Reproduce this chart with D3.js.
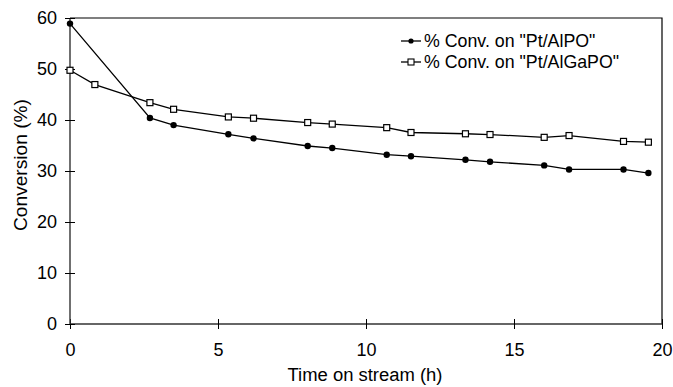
<!DOCTYPE html>
<html>
<head>
<meta charset="utf-8">
<script src="https://cdn.jsdelivr.net/npm/d3@7"></script>
<style>
  body { margin: 0; background: #fff; }
  svg { display: block; font-family: "Liberation Sans", Arial, sans-serif; }
</style>
</head>
<body>
<svg width="673" height="387"></svg>
<script>
// ---------- data ----------
var timeAlPO = [0, 2.7, 3.5, 5.35, 6.2, 8.03, 8.86, 10.7, 11.52, 13.36, 14.19, 16.02, 16.86, 18.7, 19.54];
var convAlPO = [58.9, 40.4, 39.0, 37.2, 36.4, 34.9, 34.5, 33.2, 32.9, 32.2, 31.8, 31.1, 30.3, 30.3, 29.6];
var timeAlGaPO = [0, 0.84, 2.7, 3.5, 5.35, 6.2, 8.03, 8.86, 10.7, 11.52, 13.36, 14.19, 16.02, 16.86, 18.7, 19.54];
var convAlGaPO = [49.75, 46.95, 43.4, 42.1, 40.6, 40.35, 39.5, 39.2, 38.5, 37.55, 37.3, 37.15, 36.6, 36.95, 35.8, 35.65];
var xTicks = [0, 5, 10, 15, 20];
var yTicks = [0, 10, 20, 30, 40, 50, 60];
var seriesNames = ['% Conv. on "Pt/AlPO"', '% Conv. on "Pt/AlGaPO"'];

var svg = d3.select('svg');
var mLeft = 70, mRight = 662, mTop = 18, mBottom = 324;

var x = d3.scaleLinear().domain([0, 20]).range([mLeft, mRight]);
var y = d3.scaleLinear().domain([0, 60]).range([mBottom, mTop]);

// frame (top + right)
svg.append('path')
   .attr('d', 'M' + mLeft + ',' + mTop + 'H' + mRight + 'V' + mBottom)
   .attr('fill', 'none')
   .attr('stroke', '#000')
   .attr('stroke-width', 1.2);

// axes, ticks cross the axis line
var xAxis = d3.axisBottom(x).tickValues(xTicks).tickSize(5).tickPadding(14);
var gx = svg.append('g')
   .attr('transform', 'translate(0,' + mBottom + ')')
   .call(xAxis);
gx.select('.domain').attr('d', 'M' + mLeft + ',0H' + mRight).attr('stroke', '#333').attr('stroke-width', 1.4);
gx.selectAll('.tick line').attr('y1', -5).attr('y2', 5);

var yAxis = d3.axisLeft(y).tickValues(yTicks).tickSize(5).tickPadding(8);
var gy = svg.append('g')
   .attr('transform', 'translate(' + mLeft + ',0)')
   .call(yAxis);
gy.select('.domain').attr('d', 'M0,' + mTop + 'V' + mBottom).attr('stroke', '#333').attr('stroke-width', 1.4);
gy.selectAll('.tick line').attr('x1', -5).attr('x2', 5);

svg.selectAll('.tick text')
   .attr('font-size', 18)
   .attr('font-family', '"Liberation Sans", Arial, sans-serif')
   .attr('fill', '#000');

// axis titles
svg.append('text')
   .attr('x', 365)
   .attr('y', 381)
   .attr('text-anchor', 'middle')
   .attr('font-size', 18)
   .attr('textLength', 155)
   .attr('lengthAdjust', 'spacingAndGlyphs')
   .text('Time on stream (h)');

svg.append('text')
   .attr('transform', 'translate(27,165) rotate(-90)')
   .attr('text-anchor', 'middle')
   .attr('font-size', 18)
   .attr('textLength', 132)
   .attr('lengthAdjust', 'spacingAndGlyphs')
   .text('Conversion (%)');

// lines
var line = d3.line().x(d => x(d[0])).y(d => y(d[1]));
var dataAlPO = timeAlPO.map((t, i) => [t, convAlPO[i]]);
var dataAlGaPO = timeAlGaPO.map((t, i) => [t, convAlGaPO[i]]);

svg.append('path').datum(dataAlGaPO)
   .attr('d', line).attr('fill', 'none').attr('stroke', '#000').attr('stroke-width', 1.3);
svg.append('path').datum(dataAlPO)
   .attr('d', line).attr('fill', 'none').attr('stroke', '#000').attr('stroke-width', 1.3);

svg.selectAll('rect.sq').data(dataAlGaPO).enter().append('rect')
   .attr('class', 'sq')
   .attr('x', d => x(d[0]) - 3)
   .attr('y', d => y(d[1]) - 3)
   .attr('width', 6).attr('height', 6)
   .attr('fill', '#fff').attr('stroke', '#000').attr('stroke-width', 1.2);

svg.selectAll('circle.dot').data(dataAlPO).enter().append('circle')
   .attr('class', 'dot')
   .attr('cx', d => x(d[0]))
   .attr('cy', d => y(d[1]))
   .attr('r', 3.2)
   .attr('fill', '#000');

// legend
var legend = svg.selectAll('g.leg').data(seriesNames).enter().append('g')
   .attr('class', 'leg')
   .attr('transform', (d, i) => 'translate(401,' + (41 + i * 21) + ')');
legend.append('line')
   .attr('x1', 0).attr('x2', 20).attr('y1', 0).attr('y2', 0)
   .attr('stroke', '#000').attr('stroke-width', 1.3);
legend.filter((d, i) => i == 0).append('circle')
   .attr('cx', 10).attr('cy', 0).attr('r', 2.6).attr('fill', '#000');
legend.filter((d, i) => i == 1).append('rect')
   .attr('x', 7).attr('y', -3).attr('width', 6).attr('height', 6)
   .attr('fill', '#fff').attr('stroke', '#000').attr('stroke-width', 1.1);
legend.append('text')
   .attr('x', 23).attr('y', 6)
   .attr('font-size', 17.8)
   .text(d => d);
</script>
</body>
</html>
